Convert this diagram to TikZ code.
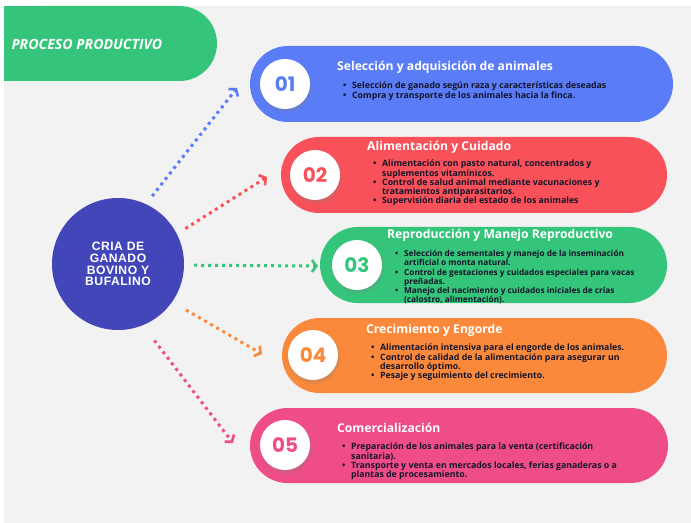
\documentclass[tikz,border=0pt]{standalone}
\usepackage{fontspec}
\setmainfont{Open Sans}
\newfontfamily\numfont{Poppins}
\newfontfamily\capfont[LetterSpace=4]{Liberation Sans}
\usepackage{tikz}
\usetikzlibrary{positioning}
\usetikzlibrary{arrows.meta}
\usetikzlibrary{shadows}

\definecolor{bggray}{HTML}{F2F2F2}
\definecolor{cblue}{HTML}{5A7CF6}
\definecolor{cred}{HTML}{F8515A}
\definecolor{cgreen}{HTML}{35C57A}
\definecolor{corange}{HTML}{FB893B}
\definecolor{cpink}{HTML}{EF4D88}
\definecolor{cnavy}{HTML}{4246B8}
\definecolor{ink}{HTML}{15152A}

\newcommand{\bul}{\makebox[9pt][l]{\textbullet}}
\newcommand{\ind}{\hspace*{9pt}}

\begin{document}
\begin{tikzpicture} [
        x=1bp, y=-1bp,
        pill/.style={rectangle, rounded corners=37.5bp, minimum height=75bp, inner sep=0pt},
        num/.style={circle, fill=white, minimum size=50bp, inner sep=0pt,
            circular drop shadow={shadow xshift=0.5bp, shadow yshift=-2bp, opacity=.3},
            font=\numfont\bfseries\fontsize{20}{20}\selectfont},
        title/.style={anchor=west, inner sep=0pt, text=white, font=\bfseries\fontsize{12.2}{12}\selectfont},
        items/.style={anchor=north west, inner sep=0pt, align=left, text=ink,
            font=\bfseries\fontsize{8.8}{9.3}\selectfont},
        dots/.style={line width=3bp, dash pattern=on 3bp off 4bp,
            -{Straight Barb[length=4.5bp,width=12bp,line width=2.6bp]}}
    ]
    \useasboundingbox (0,0) rectangle (691,523);
    \fill[white] (0,0) rectangle (691,523);
    \fill[bggray] (4,6) rectangle (691,523);

    % header
    \node[pill, fill=cgreen, minimum width=213bp] (hdr) at (110.5,43.5) {};
    \fill[cgreen] (hdr.north west) rectangle ([xshift=40bp]hdr.south);
    \node[anchor=west, text=white, font=\bfseries\itshape\fontsize{14.2}{14}\selectfont]
        (htxt) at (8,44) {PROCESO PRODUCTIVO};

    % centre
    \node[circle, fill=cnavy, minimum size=132bp, inner sep=0pt, align=center, text=white,
        font=\capfont\bfseries\fontsize{12.2}{11.8}\selectfont]
        (cria) at (118,264) {CRIA DE\\GANADO\\BOVINO Y\\BUFALINO};

    % pills
    \node[pill, fill=cblue, minimum width=423bp, minimum height=76bp, rounded corners=38bp] (p1) at (461.5,84) {};
    \node[pill, fill=cred, minimum width=386bp, minimum height=76bp, rounded corners=38bp] (p2) at (474,175) {};
    \node[pill, fill=cgreen, minimum width=347bp, minimum height=76bp, rounded corners=38bp] (p3) at (493.5,265) {};
    \node[pill, fill=corange, minimum width=385bp] (p4) at (474.5,355.5) {};
    \node[pill, fill=cpink, minimum width=418bp] (p5) at (459,445.5) {};

    \node[num, text=cblue] (n1) at (285,84) {01};
    \node[num, text=cred] (n2) at (315,175) {02};
    \node[num, text=cgreen] (n3) at (357,265) {03};
    \node[num, text=corange] (n4) at (313,355) {04};
    \node[num, text=cpink] (n5) at (285,445) {05};

    \node[title] (h1) at (337,67) {Selección y adquisición de animales};
    \node[items] (b1) at (343,82) {\bul Selección de ganado según raza y características deseadas\\
        \bul Compra y transporte de los animales hacia la finca.};

    \node[title] (h2) at (367,147) {Alimentación y Cuidado};
    \node[items] (b2) at (373,160) {\bul Alimentación con pasto natural, concentrados y\\
        \ind suplementos vitamínicos.\\
        \bul Control de salud animal mediante vacunaciones y\\
        \ind tratamientos antiparasitarios.\\
        \bul Supervisión diaria del estado de los animales};

    \node[title] (h3) at (387,235) {Reproducción y Manejo Reproductivo};
    \node[items, font=\bfseries\fontsize{8.3}{9.3}\selectfont] (b3) at (395,250)
        {\bul Selección de sementales y manejo de la inseminación\\
        \ind artificial o monta natural.\\
        \bul Control de gestaciones y cuidados especiales para vacas\\
        \ind preñadas.\\
        \bul Manejo del nacimiento y cuidados iniciales de crías\\
        \ind (calostro, alimentación).};

    \node[title] (h4) at (366,330) {Crecimiento y Engorde};
    \node[items] (b4) at (371,344) {\bul Alimentación intensiva para el engorde de los animales.\\
        \bul Control de calidad de la alimentación para asegurar un\\
        \ind desarrollo óptimo.\\
        \bul Pesaje y seguimiento del crecimiento.};

    \node[title] (h5) at (337,428) {Comercialización};
    \node[items] (b5) at (342,443) {\bul Preparación de los animales para la venta (certificación\\
        \ind sanitaria).\\
        \bul Transporte y venta en mercados locales, ferias ganaderas o a\\
        \ind plantas de procesamiento.};

    % dotted arrows
    \coordinate (t1) at (237,88);
    \coordinate (t2) at (267,177);
    \coordinate (t3) at (318,266);
    \coordinate (t4) at (262,354);
    \coordinate (t5) at (233,443);
    \draw[dots, cblue, shorten <=10bp] (cria.65) -- (t1);
    \draw[dots, cred, shorten <=10bp] (cria.27) -- (t2);
    \draw[dots, cgreen, shorten <=10bp] (cria.-1) -- (t3);
    \draw[dots, corange, shorten <=16bp] (cria.-35) -- (t4);
    \draw[dots, cpink, shorten <=19bp] (cria.-68) -- (t5);
\end{tikzpicture}
\end{document}
